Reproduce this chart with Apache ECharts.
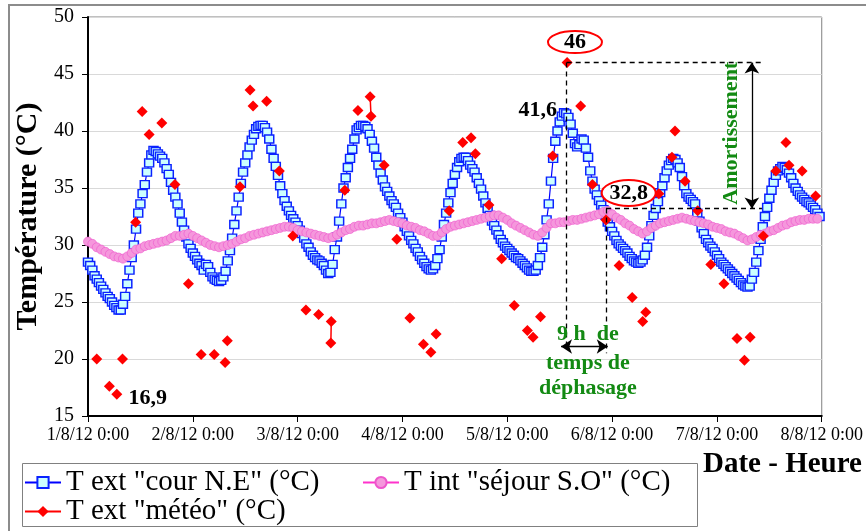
<!DOCTYPE html>
<html><head><meta charset="utf-8">
<script src="https://cdn.jsdelivr.net/npm/echarts@6/dist/echarts.min.js"></script>
<style>html,body{margin:0;padding:0;background:#fff}#c{width:866px;height:531px}</style>
</head><body><div id="c"></div>
<script>
// ---- data ----
const dayLabels = ['1/8/12 0:00','2/8/12 0:00','3/8/12 0:00','4/8/12 0:00','5/8/12 0:00','6/8/12 0:00','7/8/12 0:00','8/8/12 0:00'];
const seriesNames = ['T ext "cour N.E" (°C)', 'T int "séjour S.O" (°C)', 'T ext "météo" (°C)'];

// T ext "cour N.E" : one reading every 30 min from 1/8/12 0:00
const courStepHours = 0.5;
const courValues = [
 28.5,28.2,27.8,27.3,27.0,26.7,26.4,26.1,25.8,25.5,25.3,25.0,24.7,24.5,24.3,24.3,24.8,25.5,26.6,27.8,28.9,30.0,31.4,32.8,33.6,34.5,35.3,36.4,37.2,37.9,38.3,38.2,38.0,37.8,37.6,37.2,36.7,36.2,35.5,34.8,34.2,33.6,32.8,32.0,31.3,30.7,30.1,29.7,
 29.3,29.0,28.7,28.4,28.2,27.8,28.3,28.1,27.6,27.2,27.0,26.9,26.8,26.9,27.2,27.7,28.6,29.5,30.6,31.8,33.0,34.2,35.4,36.4,37.2,37.9,38.6,39.2,39.7,40.2,40.4,40.5,40.5,40.3,39.9,39.3,38.4,37.6,36.9,36.1,35.2,34.5,33.9,33.4,33.0,32.6,32.3,32.0,
 31.7,31.3,31.0,30.6,30.1,29.8,29.4,29.1,28.9,28.7,28.6,28.4,28.2,27.8,27.5,27.6,28.3,29.6,30.7,32.1,33.6,35.0,35.9,36.8,37.6,38.4,39.3,40.1,40.3,40.5,40.5,40.4,40.2,39.7,39.1,38.5,37.7,37.0,36.3,35.7,35.1,34.7,34.3,33.9,33.6,33.3,32.8,32.4,
 32.0,31.6,31.2,30.8,30.4,30.1,29.7,29.4,29.0,28.7,28.4,28.1,27.9,27.8,27.9,28.2,28.8,29.6,30.7,31.8,32.8,33.7,34.6,35.4,36.2,36.8,37.3,37.6,37.7,37.7,37.4,37.0,36.7,36.4,35.9,35.4,34.9,34.3,33.7,33.2,32.6,32.1,31.7,31.3,30.9,30.5,30.2,29.9,
 29.7,29.5,29.3,29.1,28.9,28.8,28.6,28.4,28.2,28.0,27.8,27.7,27.7,27.8,28.2,28.9,29.8,30.9,32.2,33.6,35.6,37.6,39.1,40.0,40.8,41.3,41.6,41.5,41.2,40.6,39.8,38.9,38.6,38.8,39.3,39.2,38.5,37.7,36.5,35.6,34.9,34.4,33.9,33.5,33.1,32.6,32.0,31.6,
 31.2,30.8,30.4,30.1,29.9,29.7,29.5,29.3,29.0,28.8,28.6,28.5,28.4,28.5,28.7,29.1,29.8,30.8,31.7,32.6,33.2,33.8,34.6,35.2,35.9,36.5,37.0,37.4,37.6,37.5,37.2,36.8,36.0,35.2,34.5,34.2,34.0,33.8,33.6,32.8,32.1,31.5,31.0,30.5,30.2,29.9,29.7,29.4,
 29.1,28.8,28.5,28.3,28.1,27.9,27.7,27.5,27.3,27.1,26.9,26.7,26.5,26.4,26.3,26.4,27.0,27.6,28.5,29.5,30.5,31.6,32.5,33.3,34.1,34.8,35.5,36.1,36.5,36.7,36.9,36.8,36.6,36.3,35.9,35.4,35.0,34.7,34.4,34.2,34.0,33.8,33.7,33.5,33.3,33.1,32.8,32.5
];

// T int "séjour S.O" : one reading per hour
const sejourStepHours = 1;
const sejourValues = [
 30.3,30.1,29.8,29.6,29.4,29.2,29.0,28.9,28.8,29.0,29.3,29.6,29.7,29.9,30.0,30.1,30.2,30.3,30.4,30.6,30.8,30.8,30.9,31.0,
 30.8,30.6,30.4,30.2,30.0,29.9,29.8,29.9,30.0,30.1,30.3,30.5,30.6,30.8,30.9,31.0,31.1,31.2,31.3,31.4,31.5,31.6,31.6,31.5,
 31.3,31.2,31.1,31.0,30.9,30.8,30.7,30.6,30.7,30.9,31.1,31.3,31.4,31.6,31.7,31.7,31.8,31.9,31.9,32.0,32.1,32.2,32.1,32.0,
 31.9,31.7,31.6,31.5,31.3,31.2,31.0,30.8,30.8,31.1,31.4,31.6,31.7,31.8,31.9,32.0,32.1,32.2,32.3,32.4,32.5,32.6,32.6,32.4,
 32.2,31.9,31.7,31.5,31.3,31.1,30.9,30.8,31.1,31.5,31.9,31.9,32.0,32.0,32.1,32.2,32.2,32.3,32.4,32.5,32.6,32.7,32.9,33.0,
 32.7,32.4,32.2,31.9,31.7,31.4,31.2,31.0,31.2,31.5,31.7,31.9,32.0,32.1,32.2,32.3,32.4,32.3,32.2,32.1,32.0,31.9,31.8,31.6,
 31.5,31.4,31.2,31.1,31.0,30.8,30.6,30.4,30.5,30.7,30.9,31.0,31.2,31.3,31.5,31.7,31.8,32.0,32.1,32.2,32.2,32.3,32.3,32.3
];

// T ext "météo" : hours since 1/8/12 0:00 and readings
const metoHours = [2.0,4.9,6.6,7.9,10.9,12.4,14.0,16.9,19.9,23.0,25.9,28.9,31.4,31.9,34.8,37.1,37.8,40.9,43.8,46.9,49.9,52.8,55.6,55.7,58.8,61.8,64.6,64.8,67.8,70.7,73.7,76.8,78.5,79.7,82.7,85.8,87.7,88.7,91.8,94.7,97.6,100.6,101.9,103.6,106.4,109.7,112.8,115.5,118.6,121.6,124.6,127.0,127.7,130.7,133.7,134.4,136.7,139.6,142.6,145.6,148.6,150.3,151.6,154.6,157.5,159.8,160.5,163.5,166.6];
const metoValues = [20.0,17.6,16.9,20.0,32.0,41.7,39.7,40.7,35.3,26.6,20.4,20.4,19.7,21.6,35.1,43.6,42.2,42.6,36.5,30.8,24.3,23.9,21.4,23.3,34.8,41.8,43.0,41.3,37.0,30.5,23.6,21.3,20.6,22.2,33.0,39.0,39.4,38.0,33.5,28.8,24.7,22.5,21.9,23.7,37.8,46.0,42.2,35.3,32.2,28.2,25.4,23.3,24.1,34.5,37.7,40.0,35.6,33.0,28.3,26.6,21.8,19.9,21.9,30.8,36.5,39.0,37.0,36.5,34.3];
const metoJoined = [22, 26]; // reading i is joined by a line to reading i+1

// ---- build ----
const serif = '"Liberation Serif","Times New Roman",serif';
const courData = courValues.map((v, i) => [i * courStepHours, v]);
const sejourData = sejourValues.map((v, i) => [i * sejourStepHours, v]);
const metoData = [];
metoHours.forEach((h, i) => {
  metoData.push([h, metoValues[i]]);
  if (!metoJoined.includes(i)) metoData.push([h, '-']);
});

const chart = echarts.init(document.getElementById('c'), null, {renderer: 'canvas'});
const legendText = {fontSize: 29, fontFamily: serif, color: '#000', lineHeight: 29};
const option = {
  animation: false,
  backgroundColor: '#fff',
  grid: {left: 88, right: 44, top: 17, bottom: 115, show: true, borderColor: '#808080', borderWidth: 1},
  legend: [
    {data: [seriesNames[0]], left: 24, top: 468, padding: 0, itemWidth: 36, itemHeight: 14, itemGap: 0, textStyle: legendText, selectedMode: false},
    {data: [seriesNames[1]], left: 362, top: 468, padding: 0, itemWidth: 36, itemHeight: 14, itemGap: 0, textStyle: legendText, selectedMode: false},
    {data: [seriesNames[2]], left: 24, top: 497, padding: 0, itemWidth: 36, itemHeight: 14, itemGap: 0, textStyle: legendText, selectedMode: false}
  ],
  xAxis: {
    type: 'value', min: 0, max: 168, interval: 24,
    axisLine: {lineStyle: {color: '#000', width: 2}},
    axisTick: {show: true, length: 6, lineStyle: {color: '#000'}},
    axisLabel: {formatter: v => dayLabels[Math.round(v / 24)], fontSize: 18, fontFamily: serif, color: '#000', margin: 10},
    splitLine: {show: false}
  },
  yAxis: {
    type: 'value', min: 15, max: 50, interval: 5,
    name: 'Température (°C)', nameLocation: 'middle', nameGap: 38, nameRotate: 90,
    nameTextStyle: {fontSize: 30, fontWeight: 'bold', fontFamily: serif, color: '#000'},
    axisLine: {show: true, lineStyle: {color: '#000', width: 2}},
    axisTick: {show: true, length: 6, lineStyle: {color: '#000'}},
    axisLabel: {fontSize: 20, fontFamily: serif, color: '#000', margin: 14},
    splitLine: {lineStyle: {color: '#d9d9d9', width: 1}}
  },
  series: [
    {
      name: seriesNames[0], type: 'line', data: courData, showAllSymbol: true,
      symbol: 'rect', symbolSize: [9, 8],
      itemStyle: {color: '#ccffff', borderColor: '#0a22ff', borderWidth: 1.4},
      lineStyle: {color: '#0000ff', width: 1.2},
      z: 2,
      markLine: {
        silent: true, animation: false, label: {show: false},
        symbol: ['arrow', 'arrow'], symbolSize: 11,
        lineStyle: {type: 'solid', color: '#000', width: 1.3},
        data: [
          [{coord: [152.0, 46]}, {coord: [152.0, 33.2]}],
          [{coord: [108.3, 21.1]}, {coord: [119.0, 21.1]}]
        ]
      }
    },
    {
      name: seriesNames[1], type: 'line', data: sejourData, showAllSymbol: true,
      symbol: 'circle', symbolSize: 9,
      itemStyle: {color: '#f597dc', borderColor: '#ee55cc', borderWidth: 0.6},
      lineStyle: {color: '#ff33cc', width: 1},
      z: 3
    },
    {
      name: seriesNames[2], type: 'line', data: metoData, connectNulls: false, showAllSymbol: true,
      symbol: 'diamond', symbolSize: 11,
      itemStyle: {color: '#ff0000'},
      lineStyle: {color: '#ff0000', width: 1.5},
      z: 4,
      markLine: {
        silent: true, animation: false, label: {show: false}, symbol: 'none',
        lineStyle: {type: [5, 4], color: '#000', width: 1.3},
        data: [
          [{coord: [109.6, 46]}, {coord: [154.3, 46]}],
          [{coord: [109.6, 46]}, {coord: [109.6, 21.0]}],
          [{coord: [118.6, 33.2]}, {coord: [154.3, 33.2]}],
          [{coord: [118.6, 33.2]}, {coord: [118.6, 20.5]}]
        ]
      }
    }
  ]
};
chart.setOption(option);

const px = (h, v) => chart.convertToPixel({gridIndex: 0}, [h, v]);
function txt(h, v, text, opt) {
  const p = px(h, v);
  return {
    type: 'text', x: p[0], y: p[1], z: 100,
    style: Object.assign({text: text, fill: '#000', font: 'bold 22px ' + serif,
      textAlign: 'center', textVerticalAlign: 'middle', align: 'center', verticalAlign: 'middle'}, opt || {})
  };
}
function ell(h, v, rx, ry) {
  const p = px(h, v);
  return {type: 'ellipse', z: 99, shape: {cx: p[0], cy: p[1], rx: rx, ry: ry},
    style: {fill: '#fff', stroke: '#ff0000', lineWidth: 2}};
}
const green = '#138a13';
const amort = txt(147.4, 39.8, 'Amortissement', {fill: green, font: 'bold 22px ' + serif});
amort.rotation = Math.PI / 2;
chart.setOption({
  graphic: [
    {type: 'rect', z: 90, shape: {x: 9, y: 5, width: 900, height: 600}, style: {fill: 'none', stroke: '#8c8c8c', lineWidth: 2}},
    {type: 'rect', z: 90, shape: {x: 22.5, y: 463.5, width: 675, height: 63}, style: {fill: 'none', stroke: '#808080', lineWidth: 1}},
    {type: 'text', z: 100, x: 703, y: 465, style: {text: 'Date - Heure', fill: '#000', font: 'bold 29px ' + serif, textAlign: 'left', textVerticalAlign: 'middle', align: 'left', verticalAlign: 'middle'}},
    ell(111.5, 47.8, 27, 11),
    txt(111.5, 47.8, '46'),
    ell(123.8, 34.56, 27, 13),
    txt(123.8, 34.56, '32,8'),
    txt(107.4, 41.84, '41,6', {textAlign: 'right', align: 'right'}),
    txt(13.7, 16.58, '16,9'),
    amort,
    txt(114.45, 22.19, '9 h  de', {fill: green}),
    txt(114.45, 19.65, 'temps de', {fill: green}),
    txt(114.45, 17.46, 'déphasage', {fill: green})
  ]
});
</script></body></html>
